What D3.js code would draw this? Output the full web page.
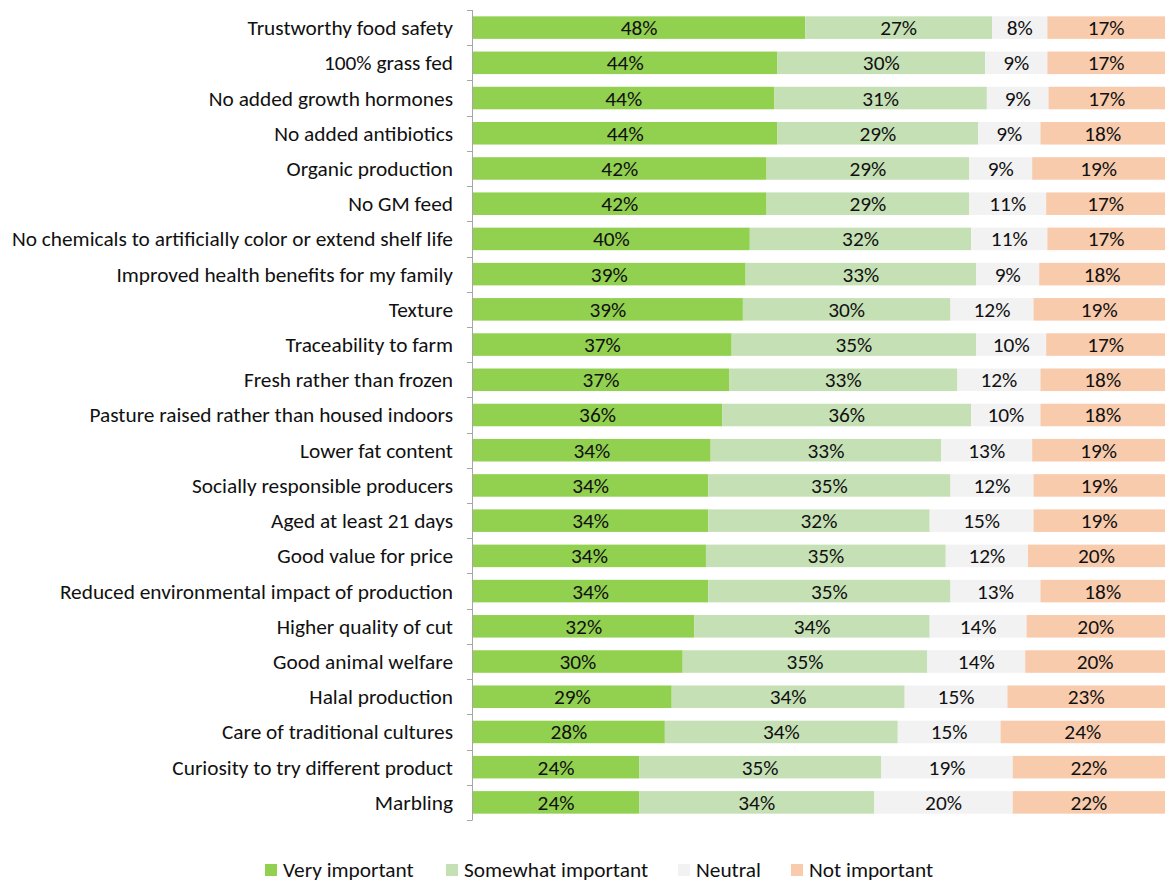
<!DOCTYPE html>
<html>
<head>
<meta charset="utf-8">
<script src="https://cdn.jsdelivr.net/npm/d3@7"></script>
<style>
  html, body { margin: 0; padding: 0; background: #fff; }
  svg { display: block; font-family: Carlito, Lato, "Open Sans", sans-serif; }
</style>
</head>
<body>
<svg id="chart" width="1165" height="882"></svg>
<script>
// Importance of beef attributes, share of respondents (%)
const categories = [
  "Trustworthy food safety",
  "100% grass fed",
  "No added growth hormones",
  "No added antibiotics",
  "Organic production",
  "No GM feed",
  "No chemicals to artificially color or extend shelf life",
  "Improved health benefits for my family",
  "Texture",
  "Traceability to farm",
  "Fresh rather than frozen",
  "Pasture raised rather than housed indoors",
  "Lower fat content",
  "Socially responsible producers",
  "Aged at least 21 days",
  "Good value for price",
  "Reduced environmental impact of production",
  "Higher quality of cut",
  "Good animal welfare",
  "Halal production",
  "Care of traditional cultures",
  "Curiosity to try different product",
  "Marbling"
];
const seriesNames = ["Very important", "Somewhat important", "Neutral", "Not important"];
const veryImportant     = [48, 44, 44, 44, 42, 42, 40, 39, 39, 37, 37, 36, 34, 34, 34, 34, 34, 32, 30, 29, 28, 24, 24];
const somewhatImportant = [27, 30, 31, 29, 29, 29, 32, 33, 30, 35, 33, 36, 33, 35, 32, 35, 35, 34, 35, 34, 34, 35, 34];
const neutral           = [ 8,  9,  9,  9,  9, 11, 11,  9, 12, 10, 12, 10, 13, 12, 15, 12, 13, 14, 14, 15, 15, 19, 20];
const notImportant      = [17, 17, 17, 18, 19, 17, 17, 18, 19, 17, 18, 18, 19, 19, 19, 20, 18, 20, 20, 23, 24, 22, 22];
const colors = ["#92D050", "#C5E0B4", "#F2F2F2", "#F8CBAD"];

const seriesValues = [veryImportant, somewhatImportant, neutral, notImportant];
const rows = categories.map((c, i) => {
  const r = { category: c };
  seriesNames.forEach((s, k) => { r[s] = seriesValues[k][i]; });
  return r;
});

const svg = d3.select("#chart");
const margin = { top: 10, left: 473, right: 0, bottom: 62 };
const width = 1165, height = 882;
const fontSize = "21.33px";

const y = d3.scaleBand()
  .domain(categories)
  .range([margin.top, height - margin.bottom])
  .paddingInner(0.36)
  .paddingOuter(0.18);

const x = d3.scaleLinear()
  .domain([0, 1])
  .range([margin.left, width - margin.right]);

const color = d3.scaleOrdinal().domain(seriesNames).range(colors);

// 100% stacked bars: each row is normalised by its total
const stacked = d3.stack()
  .keys(seriesNames)
  .offset(d3.stackOffsetExpand)(rows);

const layers = svg.append("g")
  .selectAll("g")
  .data(stacked)
  .join("g")
  .attr("fill", d => color(d.key));

layers.selectAll("rect")
  .data(d => d.map(p => Object.assign(p, { key: d.key })))
  .join("rect")
  .attr("x", d => x(d[0]))
  .attr("y", d => y(d.data.category))
  .attr("width", d => x(d[1]) - x(d[0]))
  .attr("height", y.bandwidth());

layers.selectAll("text")
  .data(d => d)
  .join("text")
  .attr("x", d => (x(d[0]) + x(d[1])) / 2)
  .attr("y", d => y(d.data.category) + y.bandwidth() / 2)
  .attr("dy", "0.35em")
  .attr("text-anchor", "middle")
  .attr("fill", "#111")
  .style("font-size", fontSize)
  .text(d => d.data[d.key] + "%");

// Category axis with ticks at the band boundaries
const axisG = svg.append("g");
const boundaries = categories.map(c => y(c) - y.step() * y.paddingInner() / 2);
boundaries.push(y(categories[categories.length - 1]) + y.bandwidth() + y.step() * y.paddingInner() / 2);
const axisTop = boundaries[0], axisBottom = boundaries[boundaries.length - 1];

axisG.append("line")
  .attr("x1", margin.left - 0.5).attr("x2", margin.left - 0.5)
  .attr("y1", axisTop).attr("y2", axisBottom)
  .attr("stroke", "#a6a6a6").attr("stroke-width", 1);

axisG.selectAll("line.tick")
  .data(boundaries)
  .join("line")
  .attr("class", "tick")
  .attr("x1", margin.left - 6).attr("x2", margin.left - 0.5)
  .attr("y1", d => Math.round(d) + 0.5).attr("y2", d => Math.round(d) + 0.5)
  .attr("stroke", "#a6a6a6").attr("stroke-width", 1);

axisG.selectAll("text")
  .data(categories)
  .join("text")
  .attr("x", margin.left - 20)
  .attr("y", d => y(d) + y.bandwidth() / 2)
  .attr("dy", "0.35em")
  .attr("text-anchor", "end")
  .attr("fill", "#111")
  .style("font-size", fontSize)
  .text(d => d);

// Legend
const legendX = [265, 446, 678, 791];
const legend = svg.append("g")
  .selectAll("g")
  .data(seriesNames)
  .join("g")
  .attr("transform", (d, i) => `translate(${legendX[i]},${864})`);

legend.append("rect")
  .attr("width", 12).attr("height", 12)
  .attr("fill", d => color(d));

legend.append("text")
  .attr("x", 18).attr("y", 6)
  .attr("dy", "0.35em")
  .attr("fill", "#111")
  .style("font-size", fontSize)
  .text(d => d);
</script>
</body>
</html>
